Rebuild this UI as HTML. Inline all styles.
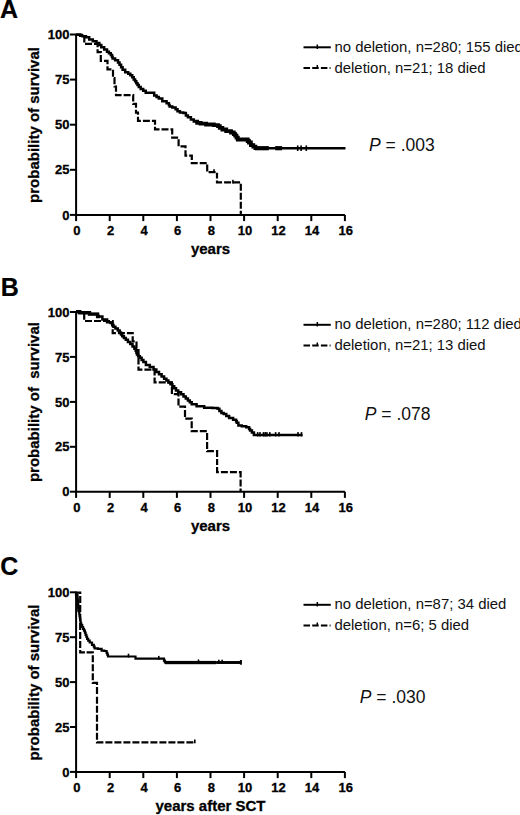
<!DOCTYPE html>
<html><head><meta charset="utf-8"><style>
html,body{margin:0;padding:0;background:#fff;width:520px;height:815px;overflow:hidden}
svg{display:block}
text{font-family:"Liberation Sans",sans-serif;fill:#000}
.big{font-size:25px;font-weight:bold;stroke:#000;stroke-width:0.2px}
.tk{font-size:13px;font-weight:bold;stroke:#000;stroke-width:0.3px}
.lab{font-size:15px;font-weight:bold;stroke:#000;stroke-width:0.3px}
.lg{font-size:14.9px;fill:#111}
.pv{font-size:17.5px;fill:#111}
.ax{fill:none;stroke:#000;stroke-width:2}
.sl{fill:none;stroke:#000;stroke-width:2}
.dl{fill:none;stroke:#000;stroke-width:2;stroke-dasharray:6.5 2.2}
.tick{fill:none;stroke:#000;stroke-width:1.5}
.sc{fill:none;stroke:#000;stroke-width:2.5;stroke-linejoin:miter}
.dc{fill:none;stroke:#000;stroke-width:2.2;stroke-dasharray:7 2}
</style></head><body>
<svg width="520" height="815" viewBox="0 0 520 815">
<text x="0" y="18" class="big">A</text>
<text x="0.8" y="296.2" class="big">B</text>
<text x="0.3" y="574.5" class="big">C</text>
<path d="M76.1 34.0 V214.9 H344.9" class="ax"/>
<path d="M70 34.5 H76.1" class="ax"/>
<text x="69.5" y="39.1" class="tk" text-anchor="end">100</text>
<path d="M70 79.6 H76.1" class="ax"/>
<text x="69.5" y="84.2" class="tk" text-anchor="end">75</text>
<path d="M70 124.7 H76.1" class="ax"/>
<text x="69.5" y="129.3" class="tk" text-anchor="end">50</text>
<path d="M70 169.8 H76.1" class="ax"/>
<text x="69.5" y="174.4" class="tk" text-anchor="end">25</text>
<path d="M70 214.9 H76.1" class="ax"/>
<text x="69.5" y="219.5" class="tk" text-anchor="end">0</text>
<path d="M76.1 214.9 V221.1" class="ax"/>
<text x="76.9" y="235.3" class="tk" text-anchor="middle">0</text>
<path d="M109.7 214.9 V221.1" class="ax"/>
<text x="110.5" y="235.3" class="tk" text-anchor="middle">2</text>
<path d="M143.3 214.9 V221.1" class="ax"/>
<text x="144.1" y="235.3" class="tk" text-anchor="middle">4</text>
<path d="M176.9 214.9 V221.1" class="ax"/>
<text x="177.7" y="235.3" class="tk" text-anchor="middle">6</text>
<path d="M210.5 214.9 V221.1" class="ax"/>
<text x="211.3" y="235.3" class="tk" text-anchor="middle">8</text>
<path d="M244.1 214.9 V221.1" class="ax"/>
<text x="244.9" y="235.3" class="tk" text-anchor="middle">10</text>
<path d="M277.7 214.9 V221.1" class="ax"/>
<text x="278.5" y="235.3" class="tk" text-anchor="middle">12</text>
<path d="M311.3 214.9 V221.1" class="ax"/>
<text x="312.1" y="235.3" class="tk" text-anchor="middle">14</text>
<path d="M344.9 214.9 V221.1" class="ax"/>
<text x="345.7" y="235.3" class="tk" text-anchor="middle">16</text>
<text x="210.5" y="254.4" class="lab" text-anchor="middle">years</text>
<text transform="translate(39.3 125.0) rotate(-90)" class="lab" text-anchor="middle" xml:space="preserve">probability of survival</text>
<path d="M76.1 311.5 V491.7 H344.9" class="ax"/>
<path d="M70 312.0 H76.1" class="ax"/>
<text x="69.5" y="316.6" class="tk" text-anchor="end">100</text>
<path d="M70 356.9 H76.1" class="ax"/>
<text x="69.5" y="361.5" class="tk" text-anchor="end">75</text>
<path d="M70 401.9 H76.1" class="ax"/>
<text x="69.5" y="406.5" class="tk" text-anchor="end">50</text>
<path d="M70 446.8 H76.1" class="ax"/>
<text x="69.5" y="451.4" class="tk" text-anchor="end">25</text>
<path d="M70 491.7 H76.1" class="ax"/>
<text x="69.5" y="496.3" class="tk" text-anchor="end">0</text>
<path d="M76.1 491.7 V497.9" class="ax"/>
<text x="76.9" y="512.1" class="tk" text-anchor="middle">0</text>
<path d="M109.7 491.7 V497.9" class="ax"/>
<text x="110.5" y="512.1" class="tk" text-anchor="middle">2</text>
<path d="M143.3 491.7 V497.9" class="ax"/>
<text x="144.1" y="512.1" class="tk" text-anchor="middle">4</text>
<path d="M176.9 491.7 V497.9" class="ax"/>
<text x="177.7" y="512.1" class="tk" text-anchor="middle">6</text>
<path d="M210.5 491.7 V497.9" class="ax"/>
<text x="211.3" y="512.1" class="tk" text-anchor="middle">8</text>
<path d="M244.1 491.7 V497.9" class="ax"/>
<text x="244.9" y="512.1" class="tk" text-anchor="middle">10</text>
<path d="M277.7 491.7 V497.9" class="ax"/>
<text x="278.5" y="512.1" class="tk" text-anchor="middle">12</text>
<path d="M311.3 491.7 V497.9" class="ax"/>
<text x="312.1" y="512.1" class="tk" text-anchor="middle">14</text>
<path d="M344.9 491.7 V497.9" class="ax"/>
<text x="345.7" y="512.1" class="tk" text-anchor="middle">16</text>
<text x="210.5" y="531.2" class="lab" text-anchor="middle">years</text>
<text transform="translate(39.3 402.1) rotate(-90)" class="lab" text-anchor="middle" xml:space="preserve">probability of  survival</text>
<path d="M76.1 591.8 V771.9 H344.9" class="ax"/>
<path d="M70 592.3 H76.1" class="ax"/>
<text x="69.5" y="596.9" class="tk" text-anchor="end">100</text>
<path d="M70 637.2 H76.1" class="ax"/>
<text x="69.5" y="641.8" class="tk" text-anchor="end">75</text>
<path d="M70 682.1 H76.1" class="ax"/>
<text x="69.5" y="686.7" class="tk" text-anchor="end">50</text>
<path d="M70 727.0 H76.1" class="ax"/>
<text x="69.5" y="731.6" class="tk" text-anchor="end">25</text>
<path d="M70 771.9 H76.1" class="ax"/>
<text x="69.5" y="776.5" class="tk" text-anchor="end">0</text>
<path d="M76.1 771.9 V778.1" class="ax"/>
<text x="76.9" y="792.3" class="tk" text-anchor="middle">0</text>
<path d="M109.7 771.9 V778.1" class="ax"/>
<text x="110.5" y="792.3" class="tk" text-anchor="middle">2</text>
<path d="M143.3 771.9 V778.1" class="ax"/>
<text x="144.1" y="792.3" class="tk" text-anchor="middle">4</text>
<path d="M176.9 771.9 V778.1" class="ax"/>
<text x="177.7" y="792.3" class="tk" text-anchor="middle">6</text>
<path d="M210.5 771.9 V778.1" class="ax"/>
<text x="211.3" y="792.3" class="tk" text-anchor="middle">8</text>
<path d="M244.1 771.9 V778.1" class="ax"/>
<text x="244.9" y="792.3" class="tk" text-anchor="middle">10</text>
<path d="M277.7 771.9 V778.1" class="ax"/>
<text x="278.5" y="792.3" class="tk" text-anchor="middle">12</text>
<path d="M311.3 771.9 V778.1" class="ax"/>
<text x="312.1" y="792.3" class="tk" text-anchor="middle">14</text>
<path d="M344.9 771.9 V778.1" class="ax"/>
<text x="345.7" y="792.3" class="tk" text-anchor="middle">16</text>
<text x="210.5" y="811.4" class="lab" text-anchor="middle">years after SCT</text>
<text transform="translate(39.3 682.5) rotate(-90)" class="lab" text-anchor="middle" xml:space="preserve">probability of survival</text>
<path d="M76.0 34.6 H78.0 V34.6 H80.0 H80.2 V35.8 H80.5 H82.5 V36.2 H84.4 H86.0 V37.2 H87.5 H89.2 V39.5 H91.0 H92.8 V41.3 H94.5 H96.5 V43.0 H98.5 H99.3 V45.0 H100.2 H101.3 V47.3 H102.5 H104.2 V49.6 H106.0 H107.0 V51.8 H108.0 H108.9 V53.3 H110.8 V54.9 H111.7 H112.0 V56.8 H112.6 V58.6 H112.9 H115.1 V60.2 H117.2 H118.0 V62.5 H119.5 V64.8 H120.3 H121.1 V67.2 H122.6 V69.7 H123.4 H125.2 V72.2 H127.1 H128.2 V73.7 H130.3 V75.2 H131.4 H132.2 V77.3 H133.7 V79.5 H134.5 H135.1 V81.3 H136.3 V83.2 H136.9 H137.5 V85.1 H138.8 V86.9 H139.4 H140.7 V88.9 H143.2 V90.8 H145.7 V92.8 H146.9 H150.0 V92.8 H153.1 H154.2 V95.5 H155.4 H156.6 V97.0 H158.8 V98.5 H160.0 H162.3 V101.2 H164.6 H166.6 V103.2 H168.5 H168.9 V104.9 H169.6 V106.6 H170.0 H172.3 V107.4 H174.6 H175.6 V109.3 H177.5 V111.3 H178.5 H179.9 V112.4 H181.3 H183.4 V113.0 H185.4 H185.9 V115.6 H186.5 H187.9 V117.3 H189.4 H190.9 V119.6 H192.3 H193.8 V121.6 H195.2 H197.2 V122.8 H199.2 H200.6 V123.7 H202.1 H206.1 V124.5 H210.0 H213.8 V125.2 H217.5 H218.0 V126.1 H218.5 H219.8 V127.8 H222.4 V129.5 H223.7 H226.2 V131.2 H228.8 H231.0 V132.5 H233.2 H233.8 V134.1 H235.2 V135.6 H235.8 H236.5 V137.6 H237.8 V139.5 H238.4 H242.7 V139.5 H247.0 H247.7 V141.0 H248.9 V142.5 H249.6 H250.9 V145.1 H252.2 H253.3 V146.6 H255.4 V148.2 H256.5 H301.0 V148.2 H345.5" class="sc"/>
<path d="M195.2 121.6 H197.2 V122.8 H199.2 H200.6 V123.7 H202.1 H206.1 V124.5 H210.0 H213.8 V125.2 H217.5 H218.0 V126.1 H218.5 H219.8 V127.8 H222.4 V129.5 H223.7 H226.2 V131.2 H228.8 H231.0 V132.5 H233.2 H233.8 V134.1 H235.2 V135.6 H235.8 H236.5 V137.6 H237.8 V139.5 H238.4 H242.7 V139.5 H247.0 H247.7 V141.0 H248.9 V142.5 H249.6 H250.9 V145.1 H252.2 H253.3 V146.6 H255.4 V148.2 H256.5" class="sc" style="stroke-width:3.8"/>
<path d="M76 34.8 H84.3 V43.8 H97.6 V52.1 H100.8 V60.8 H107.5 V69.4 H113 V78 H114.5 V86.5 H116 V95.2 H133.2 V103.9 H136 V112.6 H138 V120.9 H155 V129.3 H172.2 V137.7 H178.6 V146.3 H185.5 V155.6 H191.8 V163.1 H207.2 V172.2 H217 V178.5" class="dc" stroke-dashoffset="0"/>
<path d="M217 180.5 V182.4 H240.8 V215" class="dc" stroke-dashoffset="0"/>
<path d="M76.0 311.7 H79.8 V312.7 H83.7 H89.5 V314.1 H95.2 H97.6 V316.5 H100.0 H102.4 V319.4 H104.8 H107.1 V322.3 H109.4 H110.5 V323.0 H111.6 H112.2 V324.9 H113.5 V326.7 H114.2 H115.4 V328.6 H117.8 V330.6 H119.0 H119.7 V332.5 H121.0 V334.4 H122.2 V336.3 H122.9 H123.9 V338.0 H125.8 V339.7 H126.7 H127.9 V341.9 H130.3 V344.0 H131.5 H132.5 V346.4 H134.4 V348.8 H135.4 H135.7 V350.7 H136.4 V352.7 H137.0 V354.6 H137.3 H138.1 V356.2 H139.8 V357.8 H140.6 H141.6 V360.0 H143.4 V362.1 H144.4 H145.9 V365.0 H147.3 H149.7 V366.9 H152.1 H153.5 V369.4 H156.3 V371.9 H157.7 H159.0 V374.2 H161.6 V376.5 H164.1 V378.8 H165.4 H166.4 V380.6 H168.4 V382.4 H170.5 V384.2 H171.5 H172.4 V386.3 H174.2 V388.3 H176.0 V390.4 H176.9 H178.2 V392.3 H181.0 V394.2 H182.3 H183.5 V396.4 H185.8 V398.5 H186.9 H187.9 V400.4 H189.8 V402.3 H191.7 V404.2 H192.7 H196.6 V406.2 H200.4 H204.2 V407.8 H208.1 H212.4 V408.0 H216.7 H217.6 V408.8 H218.5 H219.4 V411.0 H221.4 V413.1 H222.3 H223.7 V414.1 H225.0 H226.3 V416.1 H227.7 H229.1 V418.1 H230.4 H233.1 V419.8 H235.8 H236.1 V421.3 H236.8 V422.8 H237.1 H238.4 V425.5 H239.8 H241.8 V426.2 H243.8 H246.2 V427.2 H248.6 H249.1 V428.9 H250.1 V430.6 H250.6 H251.9 V432.6 H253.3 H253.9 V435.1 H254.6 H278.6 V435.1 H302.6" class="sc"/>
<path d="M76.0 311.7 H79.8 V312.7 H83.7 H89.5 V314.1 H95.2 H97.6 V316.5 H100.0" class="sc" style="stroke-width:3.4"/>
<path d="M76 312 H84.2 V321 H112.7 V333.1 H132.7 V341.3 H136.5 V350 H138.5 V369.6 H154.6 V382.3 H171.9 V394.2 H178.5 V406.7 H185 V418.7 H191.7 V431.2 H207.1 V451.1 H217.1 V465" class="dc" stroke-dashoffset="0"/>
<path d="M217.1 467 V472.2 H240.6 V491.7" class="dc" stroke-dashoffset="0"/>
<path d="M75.8 592.8 H76.0 V594.8 H76.4 V596.8 H76.8 V598.7 H77.3 V600.7 H77.7 V602.7 H77.9 H78.0 V604.6 H78.3 V606.4 H78.5 V608.2 H78.8 V610.1 H79.0 V611.9 H79.3 V613.8 H79.4 H79.5 V615.7 H79.8 V617.6 H80.1 V619.6 H80.4 V621.5 H80.7 V623.4 H80.8 H81.3 V625.2 H82.2 V627.0 H83.1 V628.9 H84.0 V630.7 H84.5 H84.9 V632.7 H85.6 V634.8 H86.4 V636.8 H87.1 V638.8 H87.5 H88.2 V640.6 H89.7 V642.5 H90.4 H92.0 V644.9 H93.5 H93.8 V646.6 H94.6 V648.3 H94.9 H97.9 V648.9 H100.9 H101.6 V650.7 H102.3 H104.3 V651.0 H106.3 H106.6 V652.8 H107.3 V654.7 H108.0 V656.5 H108.3 H121.8 V656.5 H135.2 H135.5 V658.7 H135.8 H149.7 V658.7 H163.5 H164.0 V660.6 H164.9 V662.5 H165.4 H203.4 V662.5 H241.5" class="sc" style="stroke-width:2.2"/>
<path d="M75.8 592.5 H80.2 V652.4 H84.9" class="dc" stroke-dashoffset="1"/>
<path d="M86.6 652.4 H92.8 V682.8 H97 V694.5" class="dc" stroke-dashoffset="0"/>
<path d="M97 696.7 V742.3 H194.8" class="dc" stroke-dashoffset="0"/>
<rect x="255.0" y="146.1" width="13.8" height="4.2"/><rect x="275.2" y="146.1" width="6.9" height="4.2"/><rect x="296.9" y="145.4" width="1.6" height="5.6"/><rect x="300.3" y="145.4" width="1.6" height="5.6"/><rect x="305.5" y="145.4" width="1.6" height="5.6"/>
<rect x="232.1" y="179.8" width="1.6" height="3.8"/><rect x="213.2" y="169.2" width="1.6" height="3.8"/>
<rect x="256.9" y="432.1" width="1.6" height="4.4"/><rect x="259.2" y="432.1" width="1.6" height="4.4"/><rect x="262.7" y="432.1" width="1.6" height="4.4"/><rect x="264.4" y="432.1" width="1.6" height="4.4"/><rect x="266.1" y="432.1" width="1.6" height="4.4"/><rect x="269.0" y="432.1" width="1.6" height="4.4"/><rect x="274.8" y="432.1" width="1.6" height="4.4"/><rect x="278.2" y="432.1" width="1.6" height="4.4"/><rect x="297.2" y="432.1" width="1.6" height="4.4"/><rect x="300.7" y="432.1" width="1.6" height="4.4"/>
<rect x="165.0" y="660.9" width="51.3" height="3.3"/><rect x="216.3" y="661.1" width="23.7" height="2.8"/><rect x="197.7" y="659.5" width="1.6" height="4.0"/><rect x="158.0" y="655.9" width="1.6" height="3.8"/><rect x="127.7" y="653.7" width="1.6" height="3.8"/><rect x="218.0" y="659.7" width="1.6" height="4.3"/><rect x="221.3" y="659.7" width="1.6" height="4.3"/><rect x="239.9" y="660.0" width="2.0" height="4.7"/>
<rect x="194.0" y="739.5" width="1.6" height="3.8"/>
<path d="M76.5 593 L78.5 593 L79.2 606 L78.6 612 L77.4 612 Z"/>
<path d="M303.5 47.3 H330.8" class="sl"/>
<path d="M317.3 44.5 V49.0" class="tick"/>
<text x="334.5" y="51.8" class="lg">no deletion, n=280; 155 died</text>
<path d="M303.5 68.0 H330.5" class="dl"/>
<path d="M317.3 65.0 V68.0" class="tick"/>
<text x="334.5" y="72.8" class="lg">deletion, n=21; 18 died</text>
<path d="M303.5 324.8 H330.8" class="sl"/>
<path d="M317.3 322.0 V326.5" class="tick"/>
<text x="334.5" y="329.3" class="lg">no deletion, n=280; 112 died</text>
<path d="M303.5 345.5 H330.5" class="dl"/>
<path d="M317.3 342.5 V345.5" class="tick"/>
<text x="334.5" y="350.3" class="lg">deletion, n=21; 13 died</text>
<path d="M303.5 604.8 H330.8" class="sl"/>
<path d="M317.3 602.0 V606.5" class="tick"/>
<text x="334.5" y="609.3" class="lg">no deletion, n=87; 34 died</text>
<path d="M303.5 625.5 H330.5" class="dl"/>
<path d="M317.3 622.5 V625.5" class="tick"/>
<text x="334.5" y="630.3" class="lg">deletion, n=6; 5 died</text>
<text x="369" y="150.8" class="pv"><tspan font-style="italic">P</tspan> = .003</text>
<text x="364.8" y="419.6" class="pv"><tspan font-style="italic">P</tspan> = .078</text>
<text x="359.8" y="702.5" class="pv"><tspan font-style="italic">P</tspan> = .030</text>
</svg>
</body></html>
